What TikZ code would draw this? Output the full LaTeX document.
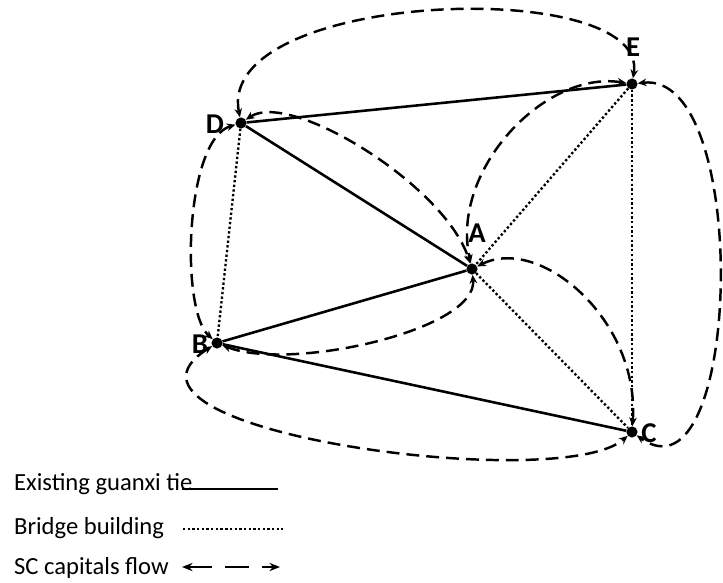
\documentclass[tikz,border=0pt]{standalone}
\usepackage{fontspec}
\setmainfont{Carlito}
\usetikzlibrary{arrows.meta}
\tikzset{
  dot/.style={circle, fill=black, inner sep=0pt, minimum size=9.5pt},
  tag/.style={font=\fontsize{24.5}{28}\selectfont\bfseries},
  legend/.style={anchor=base west, font=\fontsize{21}{25}\selectfont},
  tie/.style={line width=2.2pt},
  bridge/.style={line width=2pt, dash pattern=on 2pt off 2pt},
  flow/.style={line width=2.1pt, dash pattern=on 11pt off 6pt,
    {Stealth[length=7.5pt,width=6.5pt]}-{Stealth[length=7.5pt,width=6.5pt]}},
}
\begin{document}
\begin{tikzpicture}[x=0.03cm, y=-0.03cm]
    \useasboundingbox (0,0) rectangle (723,582);
    % 頂点
    \node[dot] (D) at (241,123) {};
    \node[dot] (E) at (632,84) {};
    \node[dot] (A) at (472,269) {};
    \node[dot] (B) at (217,343) {};
    \node[dot] (C) at (632,432) {};
    \node[tag] (Dl) at (215,124) {D};
    \node[tag] (El) at (633,47) {E};
    \node[tag] (Al) at (477,233) {A};
    \node[tag] (Bl) at (200,344) {B};
    \node[tag] (Cl) at (649,433) {C};
    % 既存の関係
    \draw[tie] (D) -- (E);
    \draw[tie] (D) -- (A);
    \draw[tie] (B) -- (A);
    \draw[tie] (B) -- (C);
    % 橋渡し
    \draw[bridge] (D) -- (B);
    \draw[bridge] (E) -- (A);
    \draw[bridge] (E) -- (C);
    \draw[bridge] (A) -- (C);
    % 資本の流れ
    \draw[flow] (D) .. controls (215,-10) and (650,-25) .. (E);
    \draw[flow] (D) .. controls (290,90) and (445,185) .. (A);
    \draw[flow] (D) .. controls (185,140) and (180,310) .. (B);
    \draw[flow] (B) .. controls (290,372) and (478,330) .. (A);
    \draw[flow] (B) .. controls (80,430) and (560,495) .. (C);
    \draw[flow] (A) .. controls (540,235) and (640,320) .. (C);
    \draw[flow] (E) .. controls (545,70) and (450,170) .. (A);
    \draw[flow] (E) .. controls (752,70) and (742,510) .. (C);
    % 凡例
    \node[legend] (l1) at (10,490) {Existing guanxi tie};
    \node[legend] (l2) at (10,534) {Bridge building};
    \node[legend] (l3) at (10,574) {SC capitals flow};
    \coordinate (t1) at (182,489);
    \coordinate (t2) at (278,489);
    \coordinate (b1) at (183,529);
    \coordinate (b2) at (283,529);
    \coordinate (f1) at (182,567);
    \coordinate (f2) at (280,567);
    \draw[tie] (t1) -- (t2);
    \draw[bridge] (b1) -- (b2);
    \draw[line width=2.2pt, dash pattern=on 20.5pt off 11pt,
      {Stealth[length=9pt,width=7pt]}-{Stealth[length=9pt,width=7pt]}] (f1) -- (f2);
  \end{tikzpicture}
\end{document}
